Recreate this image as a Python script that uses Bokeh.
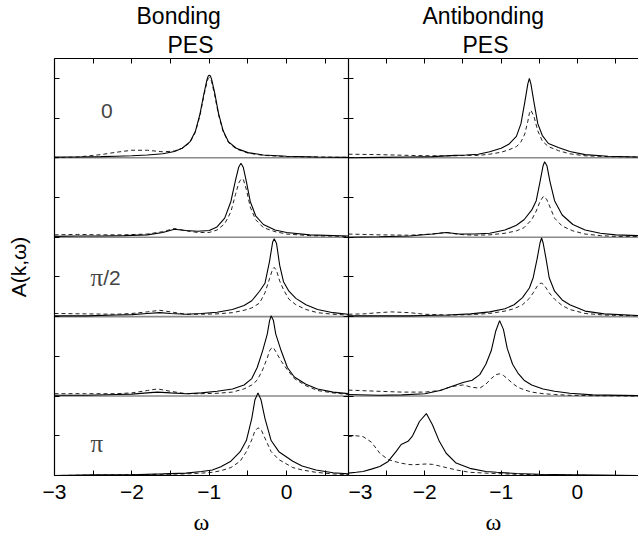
from bokeh.plotting import figure
from bokeh.models import LinearAxis, FixedTicker, Span, Label, Title, Range1d
from bokeh.layouts import row
from bokeh.embed import file_html
from bokeh.resources import INLINE

# ---------------- data (heights above each panel's baseline) ----------------
# Bonding PES, k = 0 (top) ... pi (bottom)
b0_w = [-3.0, -2.7, -2.4, -2.2, -2.0, -1.8, -1.6, -1.45, -1.35, -1.25, -1.18, -1.12, -1.07, -1.03, -1.015,
        -1.0, -0.985, -0.97, -0.93, -0.88, -0.82, -0.75, -0.65, -0.5, -0.3, 0.0, 0.4, 0.8]
b0_solid = [0.01, 0.01, 0.015, 0.02, 0.025, 0.035, 0.05, 0.08, 0.12, 0.2, 0.33, 0.55, 0.8, 0.98, 1.025,
            1.04, 1.03, 0.99, 0.82, 0.56, 0.34, 0.2, 0.12, 0.065, 0.035, 0.02, 0.01, 0.005]
b0_dash = [0.0, 0.01, 0.04, 0.07, 0.095, 0.095, 0.075, 0.085, 0.12, 0.19, 0.32, 0.53, 0.78, 0.95, 0.995,
           1.01, 1.0, 0.96, 0.79, 0.54, 0.33, 0.19, 0.11, 0.06, 0.03, 0.015, 0.01, 0.005]

b1_w = [-3.0, -2.7, -2.4, -2.1, -1.8, -1.6, -1.45, -1.3, -1.15, -1.0, -0.9, -0.8, -0.72, -0.66, -0.62,
        -0.59, -0.56, -0.52, -0.47, -0.4, -0.3, -0.15, 0.0, 0.3, 0.8]
b1_solid = [0.01, 0.015, 0.015, 0.02, 0.03, 0.06, 0.10, 0.085, 0.075, 0.085, 0.13, 0.24, 0.45, 0.72, 0.88,
            0.93, 0.88, 0.70, 0.45, 0.27, 0.16, 0.09, 0.06, 0.03, 0.015]
b1_dash = [0.03, 0.035, 0.03, 0.03, 0.04, 0.07, 0.11, 0.08, 0.06, 0.06, 0.09, 0.17, 0.32, 0.54, 0.68,
           0.73, 0.73, 0.6, 0.38, 0.22, 0.12, 0.07, 0.04, 0.02, 0.01]

b2_w = [-3.0, -2.6, -2.2, -2.0, -1.8, -1.64, -1.5, -1.3, -1.1, -0.9, -0.7, -0.55, -0.45, -0.35, -0.28,
        -0.22, -0.18, -0.16, -0.13, -0.09, -0.04, 0.03, 0.12, 0.25, 0.4, 0.6, 0.8]
b2_solid = [0.01, 0.01, 0.02, 0.025, 0.04, 0.05, 0.04, 0.03, 0.04, 0.055, 0.09, 0.14, 0.2, 0.32, 0.42,
            0.7, 0.94, 0.98, 0.92, 0.65, 0.44, 0.32, 0.23, 0.15, 0.09, 0.05, 0.03]
b2_dash = [0.04, 0.035, 0.03, 0.04, 0.06, 0.08, 0.06, 0.03, 0.03, 0.035, 0.05, 0.08, 0.11, 0.17, 0.3,
           0.48, 0.6, 0.62, 0.58, 0.45, 0.34, 0.22, 0.15, 0.09, 0.05, 0.03, 0.02]

b3_w = [-3.0, -2.6, -2.2, -2.0, -1.8, -1.67, -1.5, -1.3, -1.1, -0.9, -0.7, -0.55, -0.45, -0.38, -0.31,
        -0.25, -0.22, -0.2, -0.17, -0.14, -0.07, 0.01, 0.1, 0.25, 0.4, 0.6, 0.8]
b3_solid = [0.01, 0.01, 0.02, 0.025, 0.04, 0.05, 0.04, 0.03, 0.04, 0.06, 0.09, 0.14, 0.22, 0.36, 0.57,
            0.78, 0.95, 1.01, 0.95, 0.78, 0.57, 0.36, 0.24, 0.15, 0.09, 0.05, 0.03]
b3_dash = [0.03, 0.03, 0.03, 0.04, 0.07, 0.09, 0.06, 0.03, 0.03, 0.035, 0.05, 0.09, 0.14, 0.2, 0.33,
           0.48, 0.57, 0.6, 0.61, 0.56, 0.44, 0.33, 0.22, 0.13, 0.07, 0.04, 0.02]

b4_w = [-3.0, -2.5, -2.0, -1.6, -1.3, -1.1, -0.96, -0.85, -0.72, -0.6, -0.52, -0.45, -0.41, -0.37, -0.33,
        -0.28, -0.2, -0.1, 0.08, 0.2, 0.38, 0.6, 0.8]
b4_solid = [0.0, 0.01, 0.01, 0.02, 0.03, 0.05, 0.07, 0.11, 0.18, 0.3, 0.44, 0.72, 0.95, 1.04, 0.95,
            0.72, 0.44, 0.3, 0.18, 0.12, 0.07, 0.035, 0.02]
b4_dash = [0.0, 0.005, 0.01, 0.015, 0.02, 0.03, 0.04, 0.06, 0.1, 0.18, 0.3, 0.45, 0.56, 0.6, 0.58,
           0.47, 0.3, 0.2, 0.1, 0.07, 0.04, 0.02, 0.01]

# Antibonding PES, k = 0 (top) ... pi (bottom)
a0_w = [-3.0, -2.6, -2.2, -1.9, -1.6, -1.46, -1.3, -1.15, -1.0, -0.9, -0.8, -0.74, -0.69, -0.65, -0.63,
        -0.61, -0.57, -0.52, -0.46, -0.38, -0.25, -0.1, 0.1, 0.4, 0.8]
a0_solid = [0.0, 0.005, 0.01, 0.015, 0.03, 0.035, 0.045, 0.075, 0.12, 0.17, 0.27, 0.43, 0.7, 0.93, 1.0,
            0.93, 0.7, 0.43, 0.28, 0.18, 0.13, 0.08, 0.04, 0.02, 0.01]
a0_dash = [0.045, 0.04, 0.03, 0.025, 0.025, 0.03, 0.03, 0.045, 0.07, 0.1, 0.14, 0.2, 0.3, 0.46, 0.56,
           0.6, 0.52, 0.34, 0.21, 0.14, 0.09, 0.05, 0.025, 0.015, 0.01]

a1_w = [-3.0, -2.6, -2.2, -1.9, -1.72, -1.55, -1.35, -1.15, -0.95, -0.8, -0.7, -0.6, -0.54, -0.49, -0.45,
        -0.43, -0.4, -0.36, -0.3, -0.2, -0.06, 0.1, 0.3, 0.5, 0.8]
a1_solid = [0.0, 0.005, 0.015, 0.04, 0.06, 0.04, 0.04, 0.05, 0.09, 0.15, 0.22, 0.34, 0.46, 0.7, 0.9,
            0.95, 0.9, 0.7, 0.46, 0.28, 0.16, 0.09, 0.05, 0.03, 0.02]
a1_dash = [0.04, 0.03, 0.025, 0.04, 0.06, 0.035, 0.025, 0.03, 0.05, 0.08, 0.12, 0.22, 0.33, 0.45, 0.51,
           0.51, 0.47, 0.38, 0.24, 0.14, 0.08, 0.04, 0.02, 0.01, 0.01]

a2_w = [-3.0, -2.8, -2.6, -2.44, -2.2, -2.0, -1.7, -1.4, -1.15, -0.95, -0.83, -0.72, -0.63, -0.58, -0.53,
        -0.49, -0.47, -0.45, -0.41, -0.37, -0.3, -0.2, -0.1, 0.1, 0.35, 0.8]
a2_solid = [0.01, 0.01, 0.01, 0.01, 0.01, 0.015, 0.02, 0.035, 0.06, 0.1, 0.15, 0.24, 0.36, 0.49, 0.72,
            0.93, 0.99, 0.93, 0.72, 0.49, 0.32, 0.21, 0.15, 0.07, 0.035, 0.015]
a2_dash = [0.03, 0.035, 0.05, 0.06, 0.05, 0.03, 0.02, 0.025, 0.04, 0.07, 0.1, 0.15, 0.23, 0.3, 0.38,
           0.42, 0.42, 0.41, 0.36, 0.3, 0.22, 0.14, 0.09, 0.04, 0.02, 0.01]

a3_w = [-3.0, -2.6, -2.3, -2.0, -1.8, -1.65, -1.5, -1.38, -1.28, -1.2, -1.13, -1.07, -1.02, -0.97, -0.92,
        -0.85, -0.78, -0.7, -0.6, -0.45, -0.3, -0.1, 0.2, 0.8]
a3_solid = [0.02, 0.01, 0.015, 0.03, 0.07, 0.12, 0.17, 0.2, 0.27, 0.4, 0.57, 0.82, 0.95, 0.84, 0.6,
            0.4, 0.29, 0.2, 0.14, 0.09, 0.06, 0.035, 0.015, 0.005]
a3_dash = [0.075, 0.06, 0.05, 0.05, 0.07, 0.12, 0.14, 0.11, 0.1, 0.15, 0.22, 0.27, 0.28, 0.26, 0.22,
           0.16, 0.11, 0.08, 0.05, 0.03, 0.02, 0.01, 0.005, 0.0]

a4_w = [-3.0, -2.9, -2.81, -2.7, -2.59, -2.48, -2.37, -2.31, -2.22, -2.16, -2.07, -1.98, -1.9, -1.81,
        -1.72, -1.59, -1.41, -1.2, -1.06, -0.8, -0.5, -0.1, 0.3, 0.8]
a4_solid = [0.03, 0.04, 0.05, 0.08, 0.114, 0.177, 0.31, 0.39, 0.43, 0.5, 0.68, 0.78, 0.64, 0.43,
            0.28, 0.156, 0.09, 0.05, 0.04, 0.025, 0.015, 0.01, 0.005, 0.0]
a4_dash = [0.49, 0.5, 0.49, 0.42, 0.28, 0.2, 0.17, 0.155, 0.14, 0.135, 0.14, 0.145, 0.14, 0.12,
           0.1, 0.07, 0.04, 0.03, 0.025, 0.015, 0.01, 0.005, 0.0, 0.0]

x_label_values = [-3.0, -2.0, -1.0, 0.0]
x_label_texts = ["\u22123", "\u22122", "\u22121", "0"]
x_half_ticks = [-2.5, -1.5, -0.5, 0.5]
x_all_ticks = [-3.0, -2.5, -2.0, -1.5, -1.0, -0.5, 0.0, 0.5]
y_ticks = [0.0, 0.5, 1.0, 1.5, 2.0, 2.5, 3.0, 3.5, 4.0, 4.5, 5.0]

bond_panels = [(b0_w, b0_solid, b0_dash), (b1_w, b1_solid, b1_dash), (b2_w, b2_solid, b2_dash),
               (b3_w, b3_solid, b3_dash), (b4_w, b4_solid, b4_dash)]
anti_panels = [(a0_w, a0_solid, a0_dash), (a1_w, a1_solid, a1_dash), (a2_w, a2_solid, a2_dash),
               (a3_w, a3_solid, a3_dash), (a4_w, a4_solid, a4_dash)]

SANS = "Liberation Sans"
SERIF = "Liberation Serif"
FIG_H = 537


def base_axis_style(ax):
    ax.major_tick_in = 5
    ax.major_tick_out = 0
    ax.minor_tick_in = 5
    ax.minor_tick_out = 0
    ax.axis_line_color = "black"
    ax.axis_line_width = 1.2
    ax.major_tick_line_color = "black"
    ax.minor_tick_line_color = "black"
    ax.major_tick_line_width = 1
    ax.minor_tick_line_width = 1
    ax.major_label_standoff = 0


def tick_only_axis(ticks):
    ax = LinearAxis(ticker=FixedTicker(ticks=[], minor_ticks=ticks))
    base_axis_style(ax)
    return ax


def make_fig(width, xmax, min_left, panels, title1, off1, title2, off2, with_ylabel, with_right):
    p = figure(width=width, height=FIG_H, x_range=Range1d(-3.0, xmax), y_range=Range1d(0.0, 5.25),
               output_backend="svg", toolbar_location=None, title=None,
               x_axis_location=None, y_axis_location=None,
               min_border_left=min_left, min_border_right=0, min_border_top=0, min_border_bottom=0)
    p.grid.visible = False
    p.outline_line_color = None
    p.background_fill_color = "white"
    p.border_fill_color = "white"

    bottom = LinearAxis(ticker=FixedTicker(ticks=x_label_values, minor_ticks=x_half_ticks))
    base_axis_style(bottom)
    bottom.major_label_text_font = SANS
    bottom.major_label_text_font_size = "21px"
    bottom.major_label_text_color = "black"
    bottom.major_label_standoff = 9
    bottom.major_label_overrides = dict(zip(x_label_values, x_label_texts))
    bottom.axis_label = "\u03c9"
    bottom.axis_label_text_font = SERIF
    bottom.axis_label_text_font_size = "24px"
    bottom.axis_label_text_font_style = "normal"
    bottom.axis_label_text_color = "black"
    bottom.axis_label_standoff = 7
    p.add_layout(bottom, "below")

    p.add_layout(tick_only_axis(x_all_ticks), "above")

    left = tick_only_axis(y_ticks)
    if with_ylabel:
        left.axis_label = "A(k,\u03c9)"
        left.axis_label_text_font = SANS
        left.axis_label_text_font_size = "21px"
        left.axis_label_text_font_style = "normal"
        left.axis_label_text_color = "black"
        left.axis_label_standoff = 25
    p.add_layout(left, "left")

    if with_right:
        p.add_layout(tick_only_axis(y_ticks), "right")

    p.add_layout(Title(text=title2, align="left", offset=off2, standoff=2, text_font=SANS,
                       text_font_size="23px", text_font_style="normal", text_color="black"), "above")
    p.add_layout(Title(text=title1, align="left", offset=off1, standoff=0, text_font=SANS,
                       text_font_size="23px", text_font_style="normal", text_color="black"), "above")

    n = len(panels)
    for k in range(1, n):
        p.add_layout(Span(location=k, dimension="width", line_color="#8a8a8a", line_width=1.6,
                          level="underlay"))

    for i, (w, solid, dash) in enumerate(panels):
        base = n - 1 - i
        p.line(w, [v + base for v in dash], line_color="#222222", line_width=1, line_dash="4 3")
        p.line(w, [v + base for v in solid], line_color="black", line_width=1.1)
    return p


left_fig = make_fig(348, 0.8, 54, bond_panels, "Bonding", 82, "PES", 113, True, True)
right_fig = make_fig(290, 0.8, 0, anti_panels, "Antibonding", 74, "PES", 114, False, False)

# panel labels (k values)
left_fig.add_layout(Label(x=-2.40, y=4.59, text="0", text_font=SANS, text_font_size="21px",
                          text_baseline="middle", text_align="left"))
left_fig.add_layout(Label(x=-2.535, y=2.49, text="\u03c0", text_font=SERIF, text_font_size="25px",
                          text_baseline="middle", text_align="left"))
left_fig.add_layout(Label(x=-2.37, y=2.49, text="/2", text_font=SANS, text_font_size="21px",
                          text_baseline="middle", text_align="left"))
left_fig.add_layout(Label(x=-2.535, y=0.405, text="\u03c0", text_font=SERIF, text_font_size="25px",
                          text_baseline="middle", text_align="left"))

layout = row(left_fig, right_fig)
open("out.html", "w").write(file_html(layout, INLINE))
